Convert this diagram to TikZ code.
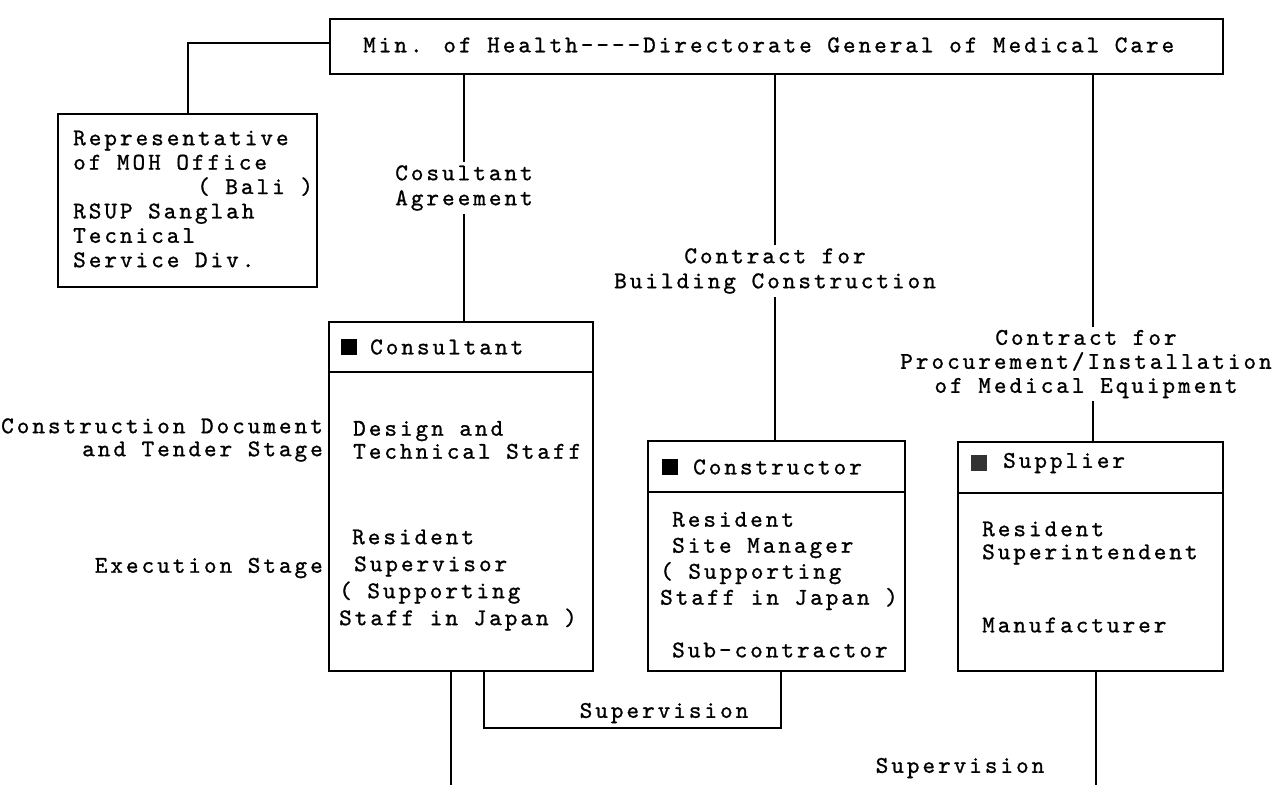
\documentclass[tikz,border=0pt]{standalone}
\usepackage{fontspec}
\newfontfamily\dm{lmmono10-regular.otf}[LetterSpace=12.5, FakeBold=1]
\newcommand\dmsize[1]{\dm\fontsize{24}{#1}\selectfont}
\begin{document}
\begin{tikzpicture}[x=1pt,y=-1pt,
  box/.style={draw, line width=1.8pt, inner sep=0pt, anchor=north west},
  ln/.style={line width=1.8pt},
  txt/.style={font=\dmsize{25}, inner sep=0pt, align=left, anchor=west},
  lbl/.style={font=\dmsize{25}, inner sep=3pt, align=center},
  sqr/.style={minimum size=16pt, inner sep=0pt}]
\useasboundingbox (0,0) rectangle (1276,785);

% boxes
\node[box, minimum width=893pt, minimum height=55pt] (top) at (329,18) {};
\node[box, minimum width=259pt, minimum height=173pt] (rep) at (57,113) {};
\node[box, minimum width=264pt, minimum height=349pt] (cons) at (328,321) {};
\node[box, minimum width=257pt, minimum height=230pt] (ctor) at (647,440) {};
\node[box, minimum width=265pt, minimum height=229pt] (supp) at (957,441) {};

% dividers
\draw[ln] ([yshift=-51pt]cons.north west) -- ([yshift=-51pt]cons.north east);
\draw[ln] ([yshift=-52pt]ctor.north west) -- ([yshift=-52pt]ctor.north east);
\draw[ln] ([yshift=-52pt]supp.north west) -- ([yshift=-52pt]supp.north east);

% texts
\node[txt] (toptext) at (363,45) {Min. of Health{-}{-}{-}{-}Directorate General of Medical Care};
\node[txt, font=\dmsize{24.4}] (reptext) at (73,199) {Representative\\of MOH Office\\\hspace*{124pt}( Bali )\\RSUP Sanglah\\Tecnical\\Service Div.};

\node[sqr, fill=black] (cq) at (348.5,347) {};
\node[txt] (ch) at (370,347) {Consultant};
\node[sqr, fill=black] (kq) at (670,467) {};
\node[txt] (kh) at (693,467) {Constructor};
\node[sqr, fill=black!80] (uq) at (979,463) {};
\node[txt] (uh) at (1003,463) {Supplier};

\node[txt, font=\dmsize{23}] (c1) at (353,440) {Design and\\Technical Staff};
\node[txt, font=\dmsize{27}] (c2) at (339,580) {\hspace*{13pt}Resident\\\hspace*{15pt}Supervisor\\( Supporting\\Staff in Japan )};
\node[txt, anchor=east, align=right, font=\dmsize{23}] (s1) at (323,440) {Construction Document\\and Tender Stage};
\node[txt, anchor=east] (s2) at (323,568) {Execution Stage};

\node[txt, font=\dmsize{26}] (k1) at (660,561) {\hspace*{12pt}Resident\\\hspace*{12pt}Site Manager\\( Supporting\\Staff in Japan )};
\node[txt] (k2) at (672,650) {Sub-contractor};

\node[txt, font=\dmsize{23}] (u1) at (982,543) {Resident\\Superintendent};
\node[txt] (u2) at (982,625) {Manufacturer};

% connector labels
\node[lbl] (ca) at (464,188) {Cosultant\\Agreement};
\node[lbl] (bc) at (775,271) {Contract for\\Building Construction};
\node[lbl, font=\dmsize{24}] (pc) at (1086,364) {Contract for\\Procurement/Installation\\of Medical Equipment};

% connectors
\coordinate (lc) at (188,43);
\draw[ln] (top.west |- lc) -- (lc) -- (rep.north -| lc);
\coordinate (xa) at (464,0);
\coordinate (xb) at (775,0);
\coordinate (xc) at (1093,0);
\draw[ln] (top.south -| xa) -- (ca.north -| xa);
\draw[ln] (ca.south -| xa) -- (cons.north -| xa);
\draw[ln] (top.south -| xb) -- (bc.north -| xb);
\draw[ln] (bc.south -| xb) -- (ctor.north -| xb);
\draw[ln] (top.south -| xc) -- (pc.north -| xc);
\draw[ln] (pc.south -| xc) -- (supp.north -| xc);

\coordinate (b1) at (451,785);
\draw[ln] (cons.south -| b1) -- (b1);
\coordinate (lx) at (484,728);
\coordinate (rx) at (781,728);
\draw[ln] (cons.south -| lx) -- (lx) -- (rx) -- (ctor.south -| rx);
\node[lbl] (sv1) at (664,713) {Supervision};
\coordinate (b2) at (1096,785);
\draw[ln] (supp.south -| b2) -- (b2);
\node[lbl] (sv2) at (960,768) {Supervision};
\end{tikzpicture}
\end{document}
